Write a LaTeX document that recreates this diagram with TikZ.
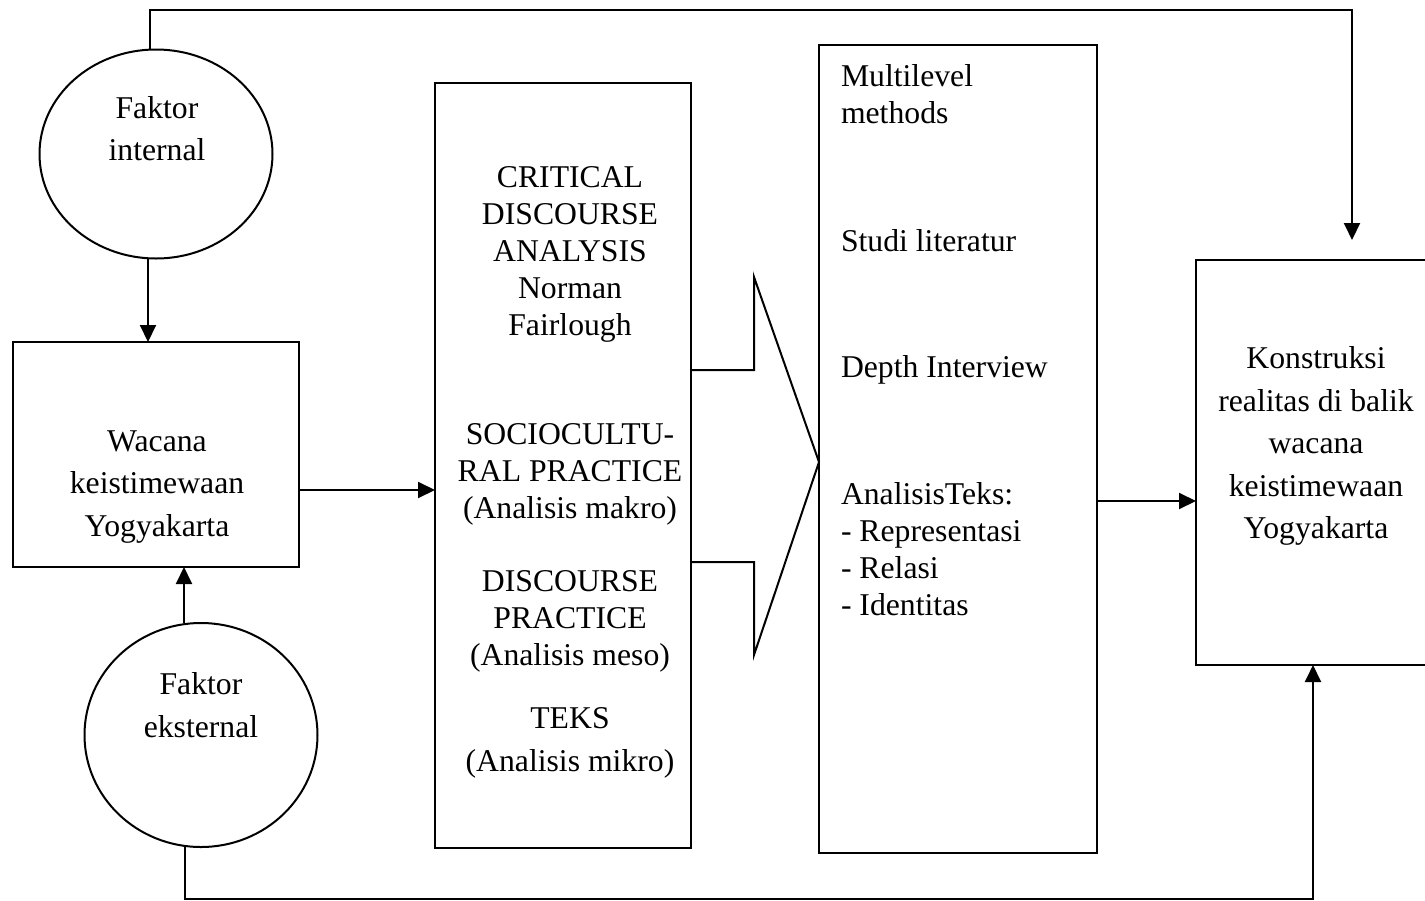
\documentclass[tikz,border=0pt]{standalone}
\usepackage{fontspec}
\setmainfont{Liberation Serif}
\usetikzlibrary{arrows.meta, shapes.geometric, positioning}

\begin{document}
\begin{tikzpicture}[x=1pt, y=-1pt, line width=2pt,
    kotak/.style={draw, rectangle, inner sep=0pt, outer sep=0pt},
    bulat/.style={draw, ellipse, inner sep=0pt, outer sep=0pt, minimum width=233pt},
    teks/.style={align=center, inner sep=0pt, font=\fontsize{31.7}{42.5}\selectfont},
    teksrapat/.style={align=center, inner sep=0pt, font=\fontsize{31.7}{37}\selectfont},
    panah/.style={-{Triangle[length=17pt, width=16pt]}}]
    \useasboundingbox (0,0) rectangle (1425,900);
    \clip (0,0) rectangle (1425,900);

    % 1. Kotak dan lingkaran
    \node[bulat, minimum height=209pt] (internal) at (156,154) {};
    \node[bulat, minimum height=224pt] (eksternal) at (201,735) {};
    \node[kotak, minimum width=286pt, minimum height=225pt] (wacana) at (156,454.5) {};
    \node[kotak, minimum width=256pt, minimum height=765pt] (cda) at (563,465.5) {};
    \node[kotak, minimum width=278pt, minimum height=808pt] (metode) at (958,449) {};
    \node[kotak, minimum width=244pt, minimum height=405pt] (konstruksi) at (1318,462.5) {};

    % 2. Teks
    \node[teks] (tInternal) at (157,128.5) {Faktor\\internal};
    \node[teks] (tEksternal) at (201,705) {Faktor\\eksternal};
    \node[teks] (tWacana) at (157,487) {Wacana\\keistimewaan\\Yogyakarta};
    \node[teks] (tKonstruksi) at (1316,446) {Konstruksi\\realitas di balik\\wacana\\keistimewaan\\Yogyakarta};
    \node[teksrapat] (tCda) at (570,254.5) {CRITICAL\\DISCOURSE\\ANALYSIS\\Norman\\Fairlough};
    \node[teksrapat] (tSosio) at (570,474.5) {SOCIOCULTU-\\RAL PRACTICE\\(Analisis makro)};
    \node[teksrapat] (tPraktik) at (570,621.5) {DISCOURSE\\PRACTICE\\(Analisis meso)};
    \node[teks] (tTeks) at (570,743) {TEKS\\(Analisis mikro)};
    \node[teksrapat, align=left, anchor=west] (tMetode) at (840,94) {Multilevel\\methods};
    \node[teksrapat, anchor=west] (tStudi) at (840,241) {Studi literatur};
    \node[teksrapat, anchor=west] (tDepth) at (840,370) {Depth Interview};
    \node[teksrapat, align=left, anchor=west] (tAnalisis) at (840,549.5) {AnalisisTeks:\\- Representasi\\- Relasi\\- Identitas};

    % 3. Panah
    \draw[panah] ([xshift=-8pt]internal.south) -- ([xshift=-8pt]internal.south |- wacana.north);
    \draw[panah] ([xshift=-17pt]eksternal.north) -- ([xshift=-17pt]eksternal.north |- wacana.south);
    \coordinate (barisA) at (0,490);
    \draw[panah] (wacana.east |- barisA) -- (cda.west |- barisA);
    \coordinate (barisB) at (0,501);
    \draw[panah] (metode.east |- barisB) -- (konstruksi.west |- barisB);

    % 4. Garis atas dan bawah
    \coordinate (atas) at (1352,10);
    \draw[panah] ([xshift=-6pt]internal.north) |- (atas) -- ([yshift=20pt]konstruksi.north -| atas);
    \coordinate (bawah) at (1313,899);
    \draw[panah] ([xshift=-16pt]eksternal.south) |- (bawah) -- (konstruksi.south -| bawah);

    % 5. Panah besar
    \draw (cda.east |- 0,370) -- ++(63,0) -- ++(0,-93) -- (metode.west |- 0,462)
        -- (754,655) -- ++(0,-93) -- (cda.east |- 0,562);
\end{tikzpicture}
\end{document}
